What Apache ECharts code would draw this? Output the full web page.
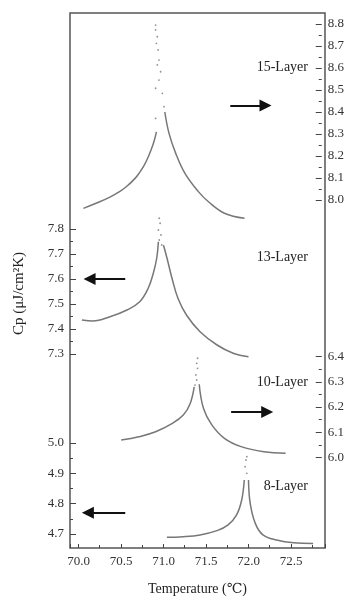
<!DOCTYPE html>
<html>
<head>
<meta charset="utf-8">
<script src="https://cdn.jsdelivr.net/npm/echarts@6/dist/echarts.min.js"></script>
<style>
html,body{margin:0;padding:0;background:#fff;}
#chart{width:347px;height:601px;}
</style>
</head>
<body>
<div id="chart"></div>
<script>
// ---- data (Temperature in °C, Cp in μJ/cm²K) ----
const xRange = [69.9, 72.9];

const layer15Left  = [[70.06,7.962],[70.21,7.985],[70.37,8.012],[70.49,8.038],[70.57,8.060],[70.67,8.096],[70.72,8.120],[70.78,8.155],[70.82,8.185],[70.87,8.232],[70.90,8.265],[70.93,8.310]];
const layer15Tip   = [[70.92,8.795],[70.92,8.773],[70.94,8.742],[70.93,8.712],[70.95,8.682],[70.96,8.636],[70.94,8.614],[70.98,8.583],[70.96,8.545],[70.92,8.508],[71.00,8.485],[71.02,8.424],[70.92,8.371]];
const layer15Right = [[71.03,8.400],[71.08,8.303],[71.16,8.212],[71.27,8.121],[71.43,8.038],[71.55,7.992],[71.74,7.940],[71.98,7.917]];

const layer13Left  = [[70.04,7.436],[70.17,7.432],[70.37,7.449],[70.57,7.476],[70.72,7.509],[70.82,7.563],[70.88,7.623],[70.92,7.683],[70.94,7.749]];
const layer13Tip   = [[70.95,7.843],[70.96,7.823],[70.94,7.796],[70.97,7.776],[70.95,7.756],[70.98,7.736]];
const layer13Right = [[71.00,7.735],[71.04,7.685],[71.10,7.603],[71.17,7.523],[71.27,7.456],[71.43,7.389],[71.63,7.336],[71.82,7.303],[72.00,7.289]];

const layer10Left  = [[70.51,6.069],[70.72,6.082],[70.92,6.102],[71.12,6.135],[71.25,6.168],[71.33,6.212],[71.38,6.280]];
const layer10Tip   = [[71.42,6.393],[71.41,6.373],[71.42,6.353],[71.40,6.327],[71.41,6.307],[71.39,6.287]];
const layer10Right = [[71.44,6.290],[71.49,6.195],[71.59,6.129],[71.74,6.076],[71.94,6.043],[72.21,6.023],[72.47,6.017]];

const layer8Left   = [[71.04,4.689],[71.23,4.691],[71.43,4.697],[71.63,4.711],[71.76,4.730],[71.86,4.763],[71.92,4.812],[71.95,4.878]];
const layer8Tip    = [[71.97,4.944],[71.98,4.955],[71.96,4.922],[71.98,4.900]];
const layer8Right  = [[72.00,4.878],[72.02,4.801],[72.08,4.735],[72.17,4.697],[72.33,4.680],[72.53,4.671],[72.76,4.669]];

// axis ranges of each segment
const axis15 = [8.0, 8.8];
const axis13 = [7.3, 7.8];
const axis10 = [6.0, 6.4];
const axis8  = [4.7, 5.0];

// arrows pointing at the relevant axis
const arrow15 = [[71.81,8.43],[72.23,8.43]];
const arrow13 = [[70.55,7.60],[70.13,7.60]];
const arrow10 = [[71.82,6.18],[72.25,6.18]];
const arrow8  = [[70.55,4.77],[70.11,4.77]];

const layerNames = ['15-Layer','13-Layer','10-Layer','8-Layer'];

// ---- chart ----
const SERIF = '"Liberation Serif","DejaVu Serif",serif';
const LEFT = 70, RIGHT = 22;
const chart = echarts.init(document.getElementById('chart'), null, {renderer:'canvas'});

const grids = [
  {left:LEFT, right:RIGHT, top:13, bottom:46, show:true, borderColor:'#555', borderWidth:1.5, backgroundColor:'transparent'},
  {left:LEFT, right:RIGHT, top:24, height:176},
  {left:LEFT, right:RIGHT, top:229, height:125},
  {left:LEFT, right:RIGHT, top:356.5, height:101},
  {left:LEFT, right:RIGHT, top:443, height:91}
];

const xAxes = [{
  type:'value', gridIndex:0, min:xRange[0], max:xRange[1], splitNumber:6,
  axisLine:{show:false},
  axisTick:{show:true, inside:true, length:4, lineStyle:{color:'#444', width:1}},
  minorTick:{show:true, splitNumber:2, length:3, lineStyle:{color:'#444', width:1}},
  splitLine:{show:false}, minorSplitLine:{show:false},
  axisLabel:{showMinLabel:false, showMaxLabel:false, margin:7, color:'#333', fontFamily:SERIF, fontSize:13,
    formatter:v => (Math.abs(v*2 - Math.round(v*2)) < 1e-6) ? v.toFixed(1) : ''},
  name:'Temperature (℃)', nameLocation:'middle', nameGap:34,
  nameTextStyle:{color:'#222', fontFamily:SERIF, fontSize:14}
}];
for (let i = 1; i <= 4; i++) {
  xAxes.push({type:'value', gridIndex:i, min:xRange[0], max:xRange[1], show:false});
}

function segAxis(gi, range, pos) {
  return {
    type:'value', gridIndex:gi, position:pos, min:range[0], max:range[1], interval:0.1,
    axisLine:{show:false},
    axisTick:{show:true, inside:true, length:6, lineStyle:{color:'#444', width:1}},
    minorTick:{show:true, splitNumber:2, length:3, lineStyle:{color:'#444', width:1}},
    splitLine:{show:false}, minorSplitLine:{show:false},
    axisLabel:{margin:6, color:'#333', fontFamily:SERIF, fontSize:13, formatter:v => v.toFixed(1)}
  };
}
const yAxes = [
  {type:'value', gridIndex:0, min:0, max:1, show:false},
  segAxis(1, axis15, 'right'),
  segAxis(2, axis13, 'left'),
  segAxis(3, axis10, 'right'),
  segAxis(4, axis8, 'left')
];

const CURVE = '#777';
function branch(gi, data) {
  return {type:'line', xAxisIndex:gi, yAxisIndex:gi, data:data, smooth:0.4, clip:false,
    showSymbol:false, symbol:'none', lineStyle:{color:CURVE, width:1.5}, silent:true};
}
function tip(gi, data, arrow) {
  return {type:'scatter', xAxisIndex:gi, yAxisIndex:gi, data:data, clip:false,
    symbol:'circle', symbolSize:1.8, itemStyle:{color:'#777'}, silent:true,
    markLine:{silent:true, symbol:['none','triangle'], symbolSize:12, precision:4,
      label:{show:false}, emphasis:{disabled:true},
      lineStyle:{color:'#111', width:2.2, type:'solid'},
      data:[[{coord:arrow[0]},{coord:arrow[1]}]]}};
}

const series = [
  branch(1, layer15Left), branch(1, layer15Right), tip(1, layer15Tip, arrow15),
  branch(2, layer13Left), branch(2, layer13Right), tip(2, layer13Tip, arrow13),
  branch(3, layer10Left), branch(3, layer10Right), tip(3, layer10Tip, arrow10),
  branch(4, layer8Left),  branch(4, layer8Right),  tip(4, layer8Tip, arrow8)
];

const labelY = [68, 258, 383, 487];
const graphic = layerNames.map((t, i) => ({
  type:'text', right:347-308, top:labelY[i]-8,
  style:{text:t, fill:'#222', font:'14px ' + SERIF, textAlign:'right'}
}));
graphic.push({
  type:'text', left:12, top:252, rotation:Math.PI/2,
  style:{text:'Cp (μJ/cm²K)', fill:'#222', font:'15px ' + SERIF}
});

chart.setOption({
  animation:false,
  backgroundColor:'#fff',
  grid:grids, xAxis:xAxes, yAxis:yAxes, series:series, graphic:graphic
});
</script>
</body>
</html>
